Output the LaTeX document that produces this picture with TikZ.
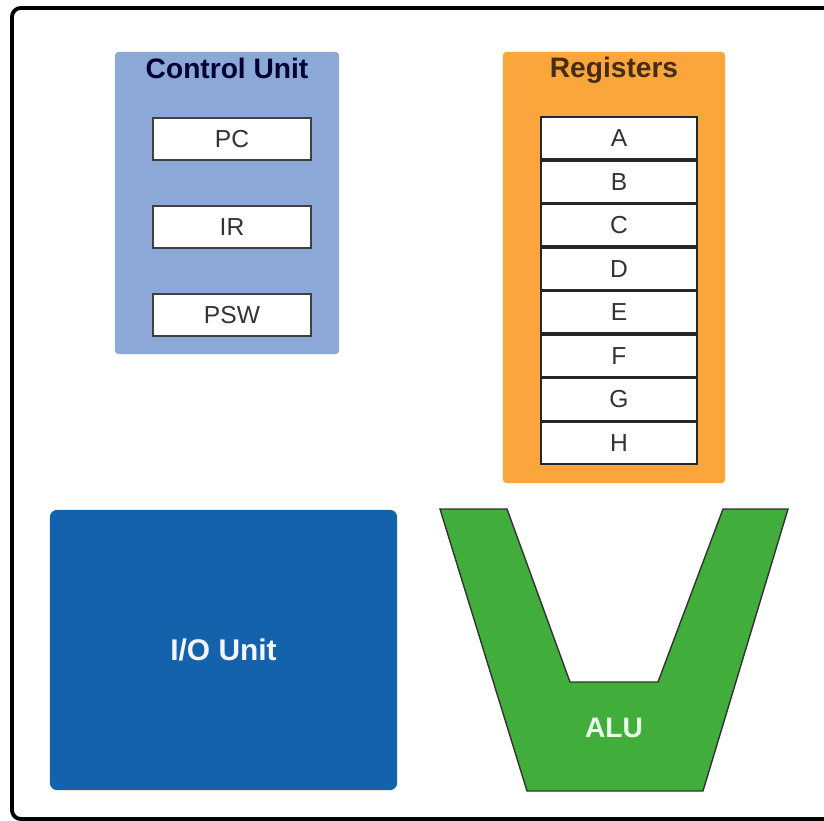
\documentclass[tikz,border=0pt]{standalone}
\usepackage{fontspec}
\setmainfont{Liberation Sans}
\usetikzlibrary{positioning}

\definecolor{CtrlBlue}{HTML}{8CA8D6}
\definecolor{RegOrange}{HTML}{FBA63D}
\definecolor{IOBlue}{HTML}{1461AC}
\definecolor{AluGreen}{HTML}{41AE3B}

\tikzstyle{Marco}=[draw=black, line width=1.1pt, rounded corners=2.5pt]
\tikzstyle{UnitBox}=[rectangle, rounded corners=1pt, inner sep=0pt]
\tikzstyle{CtrlBox}=[UnitBox, fill=CtrlBlue, minimum width=22.4mm, minimum height=30.2mm]
\tikzstyle{RegBox}=[UnitBox, fill=RegOrange, minimum width=22.2mm, minimum height=43.1mm]
\tikzstyle{IOBox}=[UnitBox, rounded corners=2pt, fill=IOBlue, minimum width=34.7mm, minimum height=28mm, text=blue!4, font=\fontsize{8.5}{10}\selectfont\bfseries]
\tikzstyle{Titulo}=[font=\fontsize{8}{9}\selectfont\bfseries]
\tikzstyle{CtrlReg}=[rectangle, draw=black!75, fill=white, line width=0.6pt, minimum width=15.8mm, minimum height=4.2mm, inner sep=0pt, font=\fontsize{7}{8}\selectfont, text=black!80]
\tikzstyle{RegCell}=[rectangle, draw=black!85, fill=white, line width=0.5pt, minimum width=15.6mm, minimum height=4.18mm, inner sep=0pt, font=\fontsize{7}{8}\selectfont, text=black!80]
\tikzstyle{AluShape}=[draw=black!80, fill=AluGreen, line width=0.4pt]
\tikzstyle{AluText}=[text=green!8, font=\fontsize{8}{9}\selectfont\bfseries]

\begin{document}
\begin{tikzpicture}[x=0.01cm, y=-0.01cm]
			\useasboundingbox (0,0) rectangle (824,821);
			\clip (0,0) rectangle (824,821);

			%Marco
			\draw[Marco] (12,8) rectangle (840,819);

			%Unidad de control
			\node[CtrlBox]		(cu)		at (227,203)					{};
			\node[Titulo, text=blue!20!black]	(cu_title)	[below=-0.6mm of cu.north]	{Control Unit};
			\node[CtrlReg]		(pc)		at (232,139)					{PC};
			\node[CtrlReg]		(ir)		[below=4.4mm of pc]			{IR};
			\node[CtrlReg]		(psw)		[below=4.4mm of ir]			{PSW};

			%Registros
			\node[RegBox]		(regs)		at (614,267.5)				{};
			\node[Titulo, text=brown!35!black]	(regs_title)	[below=-0.6mm of regs.north]	{Registers};
			\node[RegCell]		(regA)		at (619,138)					{A};
			\node[RegCell]		(regB)		[below=0cm of regA]			{B};
			\node[RegCell]		(regC)		[below=0cm of regB]			{C};
			\node[RegCell]		(regD)		[below=0cm of regC]			{D};
			\node[RegCell]		(regE)		[below=0cm of regD]			{E};
			\node[RegCell]		(regF)		[below=0cm of regE]			{F};
			\node[RegCell]		(regG)		[below=0cm of regF]			{G};
			\node[RegCell]		(regH)		[below=0cm of regG]			{H};

			%Entrada/salida
			\node[IOBox]		(io)		at (223.5,650)				{I/O Unit};

			%ALU
			\draw[AluShape] (440,509) -- (507,509) -- (570,682) -- (658,682) -- (723,509) -- (788,509) -- (703,791) -- (527,791) -- cycle;
			\node[AluText]		(alu)		at (614,728)					{ALU};

		\end{tikzpicture}
\end{document}
